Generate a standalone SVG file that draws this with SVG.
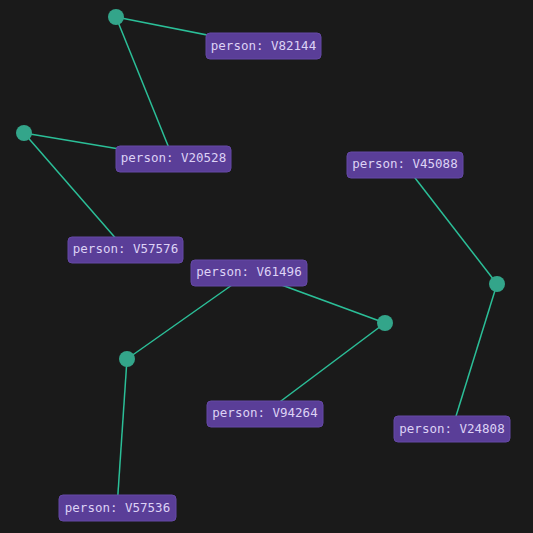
<svg xmlns="http://www.w3.org/2000/svg" width="533" height="533" viewBox="0 0 533 533">
<style>
.e{stroke:#2bbf98;stroke-width:1.5;fill:none}
.d{fill:#33a58a}
.b{fill:#5a3e98;stroke:#6548a6;stroke-width:1}
.t{fill:#ddd2f5;font-family:"DejaVu Sans Mono","Liberation Mono",monospace;font-size:12.5px;text-anchor:middle;dominant-baseline:central}
</style>
<rect width="533" height="533" fill="#1a1a1a"/>
<g id="connectors">
<line class="e" x1="116" y1="17" x2="263" y2="46"/>
<line class="e" x1="116" y1="17" x2="173" y2="158"/>
<line class="e" x1="24" y1="133" x2="173" y2="158"/>
<line class="e" x1="24" y1="133" x2="125" y2="249"/>
<line class="e" x1="249" y1="273" x2="127" y2="359"/>
<line class="e" x1="249" y1="273" x2="385" y2="323"/>
<line class="e" x1="385" y1="323" x2="265" y2="413"/>
<line class="e" x1="127" y1="359" x2="117" y2="508"/>
<line class="e" x1="405" y1="165" x2="497" y2="284"/>
<line class="e" x1="497" y1="284" x2="452" y2="429"/>
</g>
<g id="dot1"><circle class="d" cx="116" cy="17" r="8"/></g>
<g id="dot2"><circle class="d" cx="24" cy="133" r="8"/></g>
<g id="dot3"><circle class="d" cx="385" cy="323" r="8"/></g>
<g id="dot4"><circle class="d" cx="127" cy="359" r="8"/></g>
<g id="dot5"><circle class="d" cx="497" cy="284" r="8"/></g>
<g id="V82144"><rect class="b" x="206" y="33" width="115" height="26" rx="4"/><text class="t" x="263.5" y="45">person: V82144</text></g>
<g id="V20528"><rect class="b" x="116" y="146" width="115" height="26" rx="4"/><text class="t" x="173.5" y="157">person: V20528</text></g>
<g id="V57576"><rect class="b" x="68" y="237" width="115" height="26" rx="4"/><text class="t" x="125.5" y="248">person: V57576</text></g>
<g id="V61496"><rect class="b" x="191" y="260" width="116" height="26" rx="4"/><text class="t" x="249" y="271">person: V61496</text></g>
<g id="V45088"><rect class="b" x="347" y="152" width="116" height="26" rx="4"/><text class="t" x="405" y="163.5">person: V45088</text></g>
<g id="V94264"><rect class="b" x="207" y="401" width="116" height="26" rx="4"/><text class="t" x="265" y="412.5">person: V94264</text></g>
<g id="V57536"><rect class="b" x="59" y="495" width="117" height="26" rx="4"/><text class="t" x="117.5" y="507.5">person: V57536</text></g>
<g id="V24808"><rect class="b" x="394" y="416" width="116" height="26" rx="4"/><text class="t" x="452" y="428.5">person: V24808</text></g>
</svg>
